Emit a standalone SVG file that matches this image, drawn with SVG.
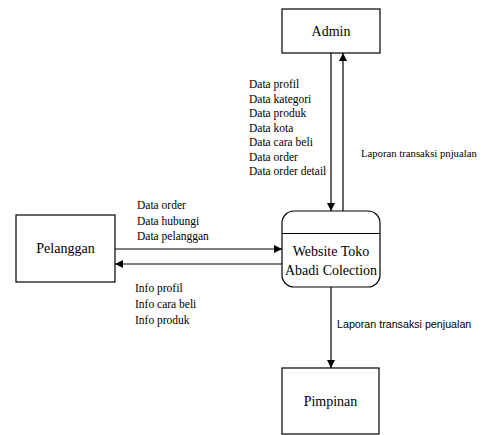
<svg xmlns="http://www.w3.org/2000/svg" width="484" height="435" viewBox="0 0 484 435">
<style>
.box{fill:#fff;stroke:#000;stroke-width:1.2}
.lbl{font-family:"Liberation Serif","Times New Roman",serif;font-size:14px;fill:#000;text-anchor:middle}
.sm{font-family:"Liberation Serif","Times New Roman",serif;font-size:11.5px;fill:#000}
.sans{font-family:"Liberation Sans",Arial,sans-serif;font-size:10.7px;fill:#000}
.ln{stroke:#000;stroke-width:1.2;fill:none}
</style>
<defs>
<marker id="ah" viewBox="0 0 10 10" refX="10" refY="5" markerWidth="8" markerHeight="8" markerUnits="userSpaceOnUse" orient="auto"><path d="M0,0 L10,5 L0,10 Z" fill="#000"/></marker>
</defs>
<rect width="484" height="435" fill="#fff"/>
<g id="admin">
<rect class="box" x="282" y="9" width="98" height="44"/>
<text class="lbl" x="331" y="36">Admin</text>
</g>
<g id="process">
<rect class="box" x="282" y="211" width="98" height="76" rx="12" ry="12"/>
<line class="ln" x1="282" y1="233.5" x2="380" y2="233.5"/>
<text class="lbl" x="331" y="256">Website Toko</text>
<text class="lbl" x="331" y="275">Abadi Colection</text>
</g>
<g id="pelanggan">
<rect class="box" x="16" y="215" width="99" height="67"/>
<text class="lbl" x="65.5" y="253">Pelanggan</text>
</g>
<g id="pimpinan">
<rect class="box" x="282" y="368" width="97" height="66"/>
<text class="lbl" x="330.5" y="406">Pimpinan</text>
</g>
<g id="connectors">
<line class="ln" x1="331" y1="53" x2="331" y2="211" marker-end="url(#ah)"/>
<line class="ln" x1="343" y1="211" x2="343" y2="53" marker-end="url(#ah)"/>
<line class="ln" x1="115" y1="249" x2="282" y2="249" marker-end="url(#ah)"/>
<line class="ln" x1="282" y1="264" x2="115" y2="264" marker-end="url(#ah)"/>
<line class="ln" x1="331" y1="287" x2="331" y2="368" marker-end="url(#ah)"/>
</g>
<g id="labels">
<text class="sm" x="249" y="88">Data profil</text>
<text class="sm" x="249" y="102.5">Data kategori</text>
<text class="sm" x="249" y="117">Data produk</text>
<text class="sm" x="249" y="131.5">Data kota</text>
<text class="sm" x="249" y="146">Data cara beli</text>
<text class="sm" x="249" y="160.5">Data order</text>
<text class="sm" x="249" y="175">Data order detail</text>
<text class="sm" x="361" y="157" style="font-size:10.7px">Laporan transaksi pnjualan</text>
<text class="sm" x="137" y="209">Data order</text>
<text class="sm" x="137" y="224.5">Data hubungi</text>
<text class="sm" x="137" y="240">Data pelanggan</text>
<text class="sm" x="135" y="292">Info profil</text>
<text class="sm" x="135" y="308">Info cara beli</text>
<text class="sm" x="135" y="324">Info produk</text>
<text class="sans" x="337" y="328">Laporan transaksi penjualan</text>
</g>
</svg>
